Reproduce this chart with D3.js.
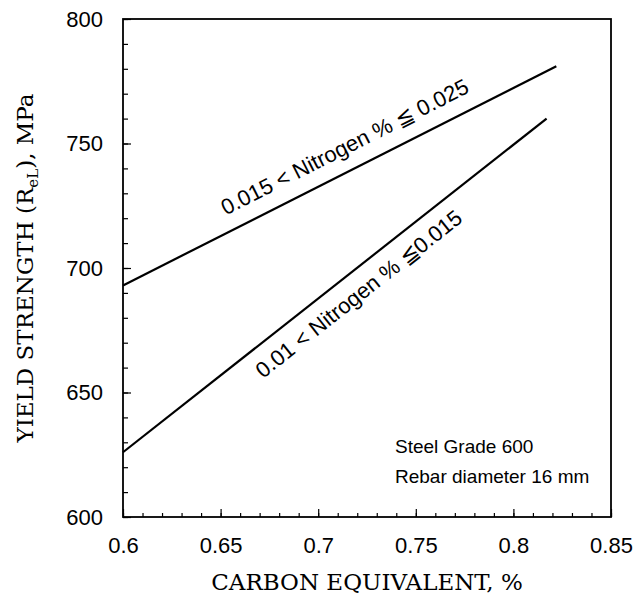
<!DOCTYPE html>
<html>
<head>
<meta charset="utf-8">
<script src="https://cdn.jsdelivr.net/npm/d3@7"></script>
<style>
  body { margin: 0; background: #fff; }
  svg text { fill: #000; }
</style>
</head>
<body>
<svg width="637" height="594"></svg>
<script>
// axis ticks
const xTicks = [0.6, 0.65, 0.7, 0.75, 0.8, 0.85];
const yTicks = [600, 650, 700, 750, 800];

// 0.015 < N <= 0.025
const highNCarbon = [0.6, 0.822];
const highNYield = [693, 781];
// 0.01 < N <= 0.015
const lowNCarbon = [0.6, 0.817];
const lowNYield = [626, 760];

const highNLabel = '0.015 < Nitrogen % \u2266 0.025';
const lowNLabel = '0.01 < Nitrogen % \u22660.015';
const notes = ['Steel Grade 600', 'Rebar diameter 16 mm'];

const svg = d3.select('svg');
const sans = '"Liberation Sans", Arial, sans-serif';
const serif = '"DejaVu Serif", serif';

let x = d3.scaleLinear().domain([0.6, 0.85]).range([123, 611]);
let y = d3.scaleLinear().domain([600, 800]).range([517, 19]);

// minor ticks
svg.append('g')
  .attr('transform', `translate(0,${y(600)})`)
  .call(d3.axisBottom(x).tickValues(d3.range(0.6, 0.8501, 0.01)).tickSize(-4).tickFormat(''))
  .call(g => g.select('.domain').remove());
svg.append('g')
  .attr('transform', `translate(${x(0.6)},0)`)
  .call(d3.axisLeft(y).tickValues(d3.range(600, 801, 10)).tickSize(-5).tickFormat(''))
  .call(g => g.select('.domain').remove());

// major ticks + labels
let xAxis = svg.append('g')
  .attr('transform', `translate(0,${y(600)})`)
  .call(d3.axisBottom(x).tickValues(xTicks).tickSize(-8).tickPadding(20).tickFormat(d3.format('')))
  .call(g => g.select('.domain').remove());
let yAxis = svg.append('g')
  .attr('transform', `translate(${x(0.6)},0)`)
  .call(d3.axisLeft(y).tickValues(yTicks).tickSize(-8).tickPadding(20))
  .call(g => g.select('.domain').remove());

[xAxis, yAxis].forEach(g => {
  g.selectAll('text').attr('font-family', sans).attr('font-size', 22).attr('fill', '#000');
});
svg.selectAll('.tick line').attr('stroke', '#000').attr('stroke-width', 1.2);

// frame
svg.append('rect')
  .attr('x', x(0.6)).attr('y', y(800))
  .attr('width', x(0.85) - x(0.6)).attr('height', y(600) - y(800))
  .attr('fill', 'none').attr('stroke', '#000').attr('stroke-width', 1.8);

// lines
let line = d3.line().x(d => x(d[0])).y(d => y(d[1]));
[[highNCarbon, highNYield], [lowNCarbon, lowNYield]].forEach(([cs, ys]) => {
  svg.append('path')
    .datum(cs.map((c, i) => [c, ys[i]]))
    .attr('d', line)
    .attr('fill', 'none')
    .attr('stroke', '#000')
    .attr('stroke-width', 2.2);
});

// label sitting along a line
function lineLabel(cs, ys, at, offset, text) {
  let x0 = x(cs[0]), y0 = y(ys[0]), x1 = x(cs[1]), y1 = y(ys[1]);
  let t = (at - cs[0]) / (cs[1] - cs[0]);
  let px = x0 + t * (x1 - x0), py = y0 + t * (y1 - y0);
  let angle = Math.atan2(y1 - y0, x1 - x0) * 180 / Math.PI;
  svg.append('text')
    .attr('transform', `translate(${px},${py}) rotate(${angle})`)
    .attr('y', offset)
    .attr('text-anchor', 'middle')
    .attr('font-family', sans)
    .attr('font-size', 22)
    .text(text);
}
lineLabel(highNCarbon, highNYield, 0.719, -16, highNLabel);
lineLabel(lowNCarbon, lowNYield, 0.714, 29, lowNLabel);

// notes
notes.forEach((n, i) => {
  svg.append('text')
    .attr('x', 395).attr('y', 453 + i * 30)
    .attr('font-family', sans).attr('font-size', 19)
    .text(n);
});

// axis titles
svg.append('text')
  .attr('x', (x(0.6) + x(0.85)) / 2).attr('y', 590)
  .attr('text-anchor', 'middle')
  .attr('font-family', serif).attr('font-size', 23)
  .text('CARBON EQUIVALENT, %');

let yt = svg.append('text')
  .attr('transform', `translate(33,${(y(600) + y(800)) / 2}) rotate(-90)`)
  .attr('text-anchor', 'middle')
  .attr('font-family', serif).attr('font-size', 23);
yt.append('tspan').text('YIELD STRENGTH (R');
yt.append('tspan').attr('font-size', 15).attr('dy', 5).text('eL');
yt.append('tspan').attr('dy', -5).text('),  MPa');
</script>
</body>
</html>
